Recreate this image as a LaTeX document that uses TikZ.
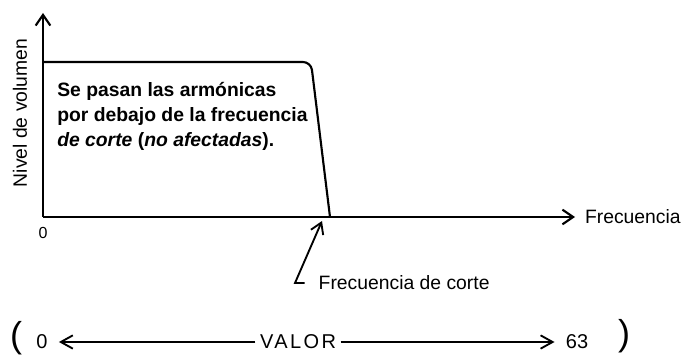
\documentclass[tikz,border=0pt]{standalone}
\usepackage{fontspec}
\setmainfont{Liberation Sans}
\usepackage{tikz}
\usetikzlibrary{arrows.meta, positioning}

\begin{document}
\begin{tikzpicture}[
        x=0.75pt, y=-0.75pt,
        node distance = 3pt and 4pt,
        eje/.style={-{Straight Barb[length=8pt, width=11pt]}, line width=1.6pt},
        flecha/.style={-{Straight Barb[length=9pt, width=10pt]}, line width=1.4pt, shorten >=5pt},
        curva/.style={line width=1.6pt, rounded corners=6pt},
        etiqueta/.style={font=\fontsize{14.5}{17}\selectfont},
        valores/.style={font=\fontsize{15}{18}\selectfont},
    ]
        \useasboundingbox (0,0) rectangle (690,356);

        \coordinate (origen) at (43,217);
        \coordinate (ytope) at (43,13);
        \coordinate (xtope) at (575,217);
        \draw[eje] (origen) -- (ytope);
        \draw[eje] (origen) -- (xtope);
        \draw[curva] (43,62) -- (311,62) -- (330,217);

        \node[etiqueta, rotate=90] (nivel) at (20,113) {Nivel de volumen};
        \node[etiqueta, right=of xtope] (frec) {Frecuencia};
        \node[font=\fontsize{12}{14}\selectfont, below=4pt of origen] (cero) {0};

        \node[etiqueta, anchor=north west, align=left, inner sep=0pt,
              font=\fontsize{14.5}{18.75}\selectfont\bfseries] (nota) at (57,82) {
            Se pasan las armónicas\\
            por debajo de la frecuencia\\
            \textit{de corte} (\textit{no afectadas}).
        };

        % flecha de la frecuencia de corte
        \node[etiqueta, anchor=west] (fcorte) at (314,283) {Frecuencia de corte};
        \coordinate (codo) at (295,283);
        \coordinate (ctope) at (322,221);
        \draw[-{Straight Barb[length=8pt, width=10pt]}, line width=1.4pt, shorten <=7pt] (fcorte.west) -- (codo) -- (ctope);

        % escala de valores
        \node[valores, font=\fontsize{15}{18}\selectfont\addfontfeature{LetterSpace=12}] (valor) at (298,342) {VALOR};
        \node[valores] (vmin) at (42,342) {0};
        \node[valores] (vmax) at (577,342) {63};
        \node[font=\fontsize{27}{30}\selectfont] (pizq) at (16,338) {(};
        \node[font=\fontsize{27}{30}\selectfont] (pder) at (624,336) {)};
        \draw[flecha] (valor) -- (vmin);
        \draw[flecha] (valor) -- (vmax);
    \end{tikzpicture}
\end{document}
